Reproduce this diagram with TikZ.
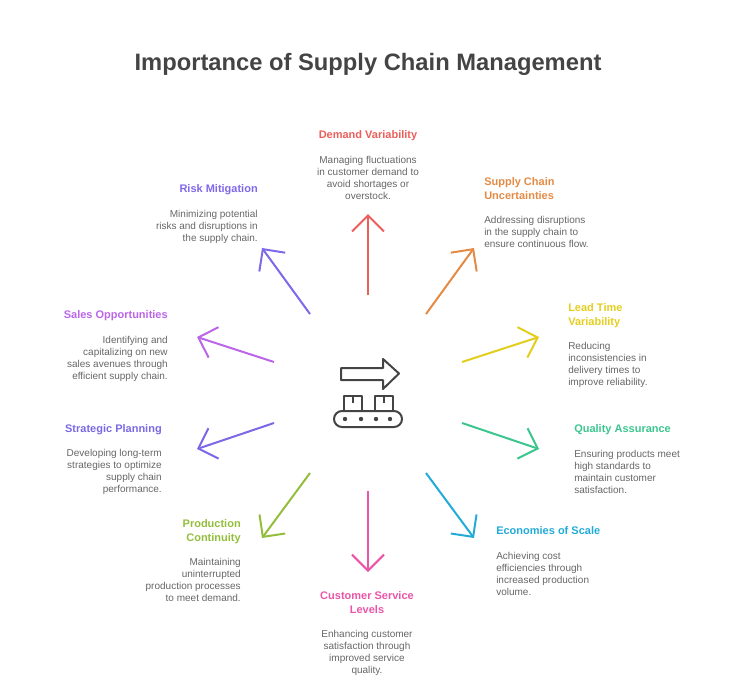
\documentclass[tikz,border=0pt]{standalone}
\usepackage{fontspec}
\setmainfont{Liberation Sans}
\usetikzlibrary{arrows.meta}
\definecolor{ink}{HTML}{444444}
\definecolor{bodygray}{HTML}{666666}
\definecolor{demandred}{HTML}{EA5F5A}
\definecolor{supplyorange}{HTML}{E38B45}
\definecolor{leadyellow}{HTML}{E3CE1F}
\definecolor{qualitygreen}{HTML}{3CC68F}
\definecolor{scaleblue}{HTML}{23ABD8}
\definecolor{servicepink}{HTML}{EA55A8}
\definecolor{continuitylime}{HTML}{93BE3C}
\definecolor{planningviolet}{HTML}{7A68E6}
\definecolor{salespurple}{HTML}{BB66E8}
\definecolor{riskviolet}{HTML}{7F68EA}
\tikzset{x=0.75pt, y=-0.75pt,
    title/.style={font=\bfseries\fontsize{17.8}{21}\selectfont, text=ink, inner sep=0pt},
    head/.style={font=\bfseries\fontsize{8.25}{10.5}\selectfont, inner sep=0pt},
    body/.style={font=\fontsize{7.5}{9}\selectfont, text=bodygray, inner sep=0pt},
    spoke/.style={line width=1.5pt, -{Straight Barb[length=12pt,width=24pt]}},
    icon/.style={draw=ink, line width=1.5pt, line join=round}}
\begin{document}
\begin{tikzpicture}
    \useasboundingbox (0,0) rectangle (746,693);
    \node[title] (heading) at (368,64) {Importance of Supply Chain Management};

    % top and bottom
    \node[head, text=demandred, anchor=north] (demand) at (368,130) {Demand Variability};
    \node[body, anchor=north, align=center] (demandtext) at (368,156) {Managing fluctuations\\in customer demand to\\avoid shortages or\\overstock.};
    \node[head, text=servicepink, anchor=north, align=center] (service) at (367,591) {Customer Service\\Levels};
    \node[body, anchor=north, align=center] (servicetext) at (367,630) {Enhancing customer\\satisfaction through\\improved service\\quality.};

    % right side
    \node[head, text=supplyorange, anchor=north west, align=left] (supply) at (484,177) {Supply Chain\\Uncertainties};
    \node[body, anchor=north west, align=left] (supplytext) at (484,216) {Addressing disruptions\\in the supply chain to\\ensure continuous flow.};
    \node[head, text=leadyellow, anchor=north west, align=left] (lead) at (568,303) {Lead Time\\Variability};
    \node[body, anchor=north west, align=left] (leadtext) at (568,342) {Reducing\\inconsistencies in\\delivery times to\\improve reliability.};
    \node[head, text=qualitygreen, anchor=north west] (quality) at (574,424) {Quality Assurance};
    \node[body, anchor=north west, align=left] (qualitytext) at (574,450) {Ensuring products meet\\high standards to\\maintain customer\\satisfaction.};
    \node[head, text=scaleblue, anchor=north west] (scale) at (496,526) {Economies of Scale};
    \node[body, anchor=north west, align=left] (scaletext) at (496,552) {Achieving cost\\efficiencies through\\increased production\\volume.};

    % left side
    \node[head, text=riskviolet, anchor=north east] (risk) at (258,184) {Risk Mitigation};
    \node[body, anchor=north east, align=right] (risktext) at (258,210) {Minimizing potential\\risks and disruptions in\\the supply chain.};
    \node[head, text=salespurple, anchor=north east] (sales) at (168,310) {Sales Opportunities};
    \node[body, anchor=north east, align=right] (salestext) at (168,336) {Identifying and\\capitalizing on new\\sales avenues through\\efficient supply chain.};
    \node[head, text=planningviolet, anchor=north east] (planning) at (162,424) {Strategic Planning};
    \node[body, anchor=north east, align=right] (planningtext) at (162,449) {Developing long-term\\strategies to optimize\\supply chain\\performance.};
    \node[head, text=continuitylime, anchor=north east, align=right] (continuity) at (241,519) {Production\\Continuity};
    \node[body, anchor=north east, align=right] (continuitytext) at (241,558) {Maintaining\\uninterrupted\\production processes\\to meet demand.};

    % spokes
    \foreach \name/\hue/\xa/\ya/\xb/\yb in {
        a/demandred/368/295/368/214,
        b/supplyorange/426/314/474/248,
        c/leadyellow/462/362/539/337,
        d/qualitygreen/462/423/539/449,
        e/scaleblue/426/473/474/538,
        f/servicepink/368/491/368/572,
        g/continuitylime/310/473/262/538,
        h/planningviolet/274/423/197/449,
        i/salespurple/274/362/197/337,
        j/riskviolet/310/314/262/248} {
        \coordinate (\name from) at (\xa,\ya);
        \coordinate (\name to) at (\xb,\yb);
        \draw[spoke, \hue] (\name from) -- (\name to);
    }

    % conveyor icon
    \draw[icon] (341,368) -- (383,368) -- (383,359) -- (399,373.5) -- (383,389) -- (383,380) -- (341,380) -- cycle;
    \draw[icon, rounded corners=6pt] (334,411) rectangle (402,427);
    \foreach \x in {344,375} {
        \draw[icon] (\x,411) -- (\x,396) -- (\x+18,396) -- (\x+18,411);
        \draw[icon, line width=1pt] (\x+9,396) -- (\x+9,403);
    }
    \foreach \x in {345,361,376,390}
        \fill[ink] (\x,419) circle (2.2);
\end{tikzpicture}
\end{document}
